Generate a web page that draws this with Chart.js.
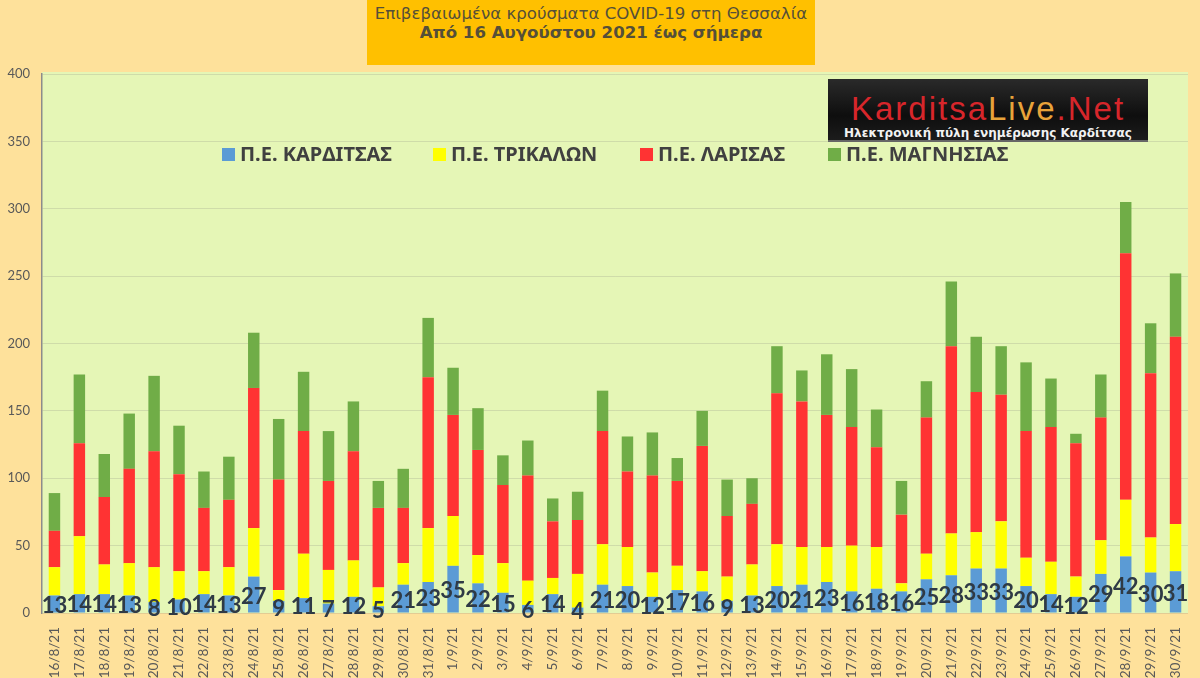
<!DOCTYPE html>
<html>
<head>
<meta charset="utf-8">
<script src="https://cdn.jsdelivr.net/npm/chart.js@4.4.0/dist/chart.umd.min.js"></script>
<style>
  html, body { margin: 0; padding: 0; }
  body { width: 1200px; height: 678px; background: #fee19b; position: relative; overflow: hidden; }
  #chart { position: absolute; left: 0; top: 0; }
  #title {
    position: absolute; left: 367px; top: 0; width: 448px; height: 65px;
    background: #ffc000; text-align: center; color: #554f38;
    font-family: "DejaVu Sans", sans-serif; font-size: 16.6px; line-height: 19px;
    padding-top: 4px; box-sizing: border-box; white-space: nowrap;
  }
  #title b { display: block; }
  #logo {
    position: absolute; left: 828px; top: 79px; width: 320px; height: 63px;
    background: linear-gradient(#2a2a2a, #0e0e0e 60%, #1c1c1c);
    font-family: "Liberation Sans", sans-serif; text-align: center; box-sizing: border-box;
    border-bottom: 2px solid #666;
  }
  #logo .brand { position: absolute; left: 0; right: 0; top: 14px; font-size: 33px; letter-spacing: 2px; color: #d7262b; line-height: 32px; }
  #logo .brand span { color: #e8a33a; }
  #logo .sub { position: absolute; left: 0; right: 0; top: 47px; font-family: "DejaVu Sans", sans-serif; font-weight: bold; font-size: 12px; color: #f2f2f2; line-height: 14px; }
</style>
</head>
<body>
<canvas id="chart" width="1200" height="678"></canvas>
<div id="title">Επιβεβαιωμένα κρούσματα COVID-19 στη Θεσσαλία<b>Από 16 Αυγούστου 2021 έως σήμερα</b></div>
<div id="logo"><div class="brand">Karditsa<span>Live</span>.Net</div><div class="sub">Ηλεκτρονική πύλη ενημέρωσης Καρδίτσας</div></div>
<script>
document.addEventListener("DOMContentLoaded", function () {
  // === Δεδομένα ===
  const days = [
    "16/8/21", "17/8/21", "18/8/21", "19/8/21", "20/8/21", "21/8/21", "22/8/21", "23/8/21",
    "24/8/21", "25/8/21", "26/8/21", "27/8/21", "28/8/21", "29/8/21", "30/8/21", "31/8/21",
    "1/9/21", "2/9/21", "3/9/21", "4/9/21", "5/9/21", "6/9/21", "7/9/21", "8/9/21",
    "9/9/21", "10/9/21", "11/9/21", "12/9/21", "13/9/21", "14/9/21", "15/9/21", "16/9/21",
    "17/9/21", "18/9/21", "19/9/21", "20/9/21", "21/9/21", "22/9/21", "23/9/21", "24/9/21",
    "25/9/21", "26/9/21", "27/9/21", "28/9/21", "29/9/21", "30/9/21",
  ];
  const karditsa = [13, 14, 14, 13, 8, 10, 14, 13, 27, 9, 11, 7, 12, 5, 21,
    23, 35, 22, 15, 6, 14, 4, 21, 20, 12, 17, 16, 9, 13, 20, 21,
    23, 16, 18, 16, 25, 28, 33, 33, 20, 14, 12, 29, 42, 30, 31];
  const trikala = [21, 43, 22, 24, 26, 21, 17, 21, 36, 8, 33, 25, 27, 14, 16,
    40, 37, 21, 22, 18, 12, 25, 30, 29, 18, 18, 15, 18, 23, 31, 28,
    26, 34, 31, 6, 19, 31, 27, 35, 21, 24, 15, 25, 42, 26, 35];
  const larisa = [27, 69, 50, 70, 86, 72, 47, 50, 104, 82, 91, 66, 81, 59, 41,
    112, 75, 78, 58, 78, 42, 40, 84, 56, 72, 63, 93, 45, 45, 112, 108,
    98, 88, 74, 51, 101, 139, 104, 94, 94, 100, 99, 91, 183, 122, 139];
  const magnisia = [28, 51, 32, 41, 56, 36, 27, 32, 41, 45, 44, 37, 37, 20, 29,
    44, 35, 31, 22, 26, 17, 21, 30, 26, 32, 17, 26, 27, 19, 35, 23,
    45, 43, 28, 25, 27, 48, 41, 36, 51, 36, 7, 32, 38, 37, 47];

  const seriesNames = ["Π.Ε. ΚΑΡΔΙΤΣΑΣ", "Π.Ε. ΤΡΙΚΑΛΩΝ", "Π.Ε. ΛΑΡΙΣΑΣ", "Π.Ε. ΜΑΓΝΗΣΙΑΣ"];
  const seriesColors = ["#5b9bd5", "#ffff00", "#ff3333", "#70ad47"];
  const legendX = [222, 433, 640, 828];

  // fond vert de la zone du graphique
  const plotBg = {
    id: "plotBg",
    beforeDraw(chart) {
      const a = chart.chartArea;
      const ctx = chart.ctx;
      ctx.save();
      ctx.fillStyle = "#e5f6b6";
      ctx.fillRect(a.left, a.top - 2, a.right - a.left, a.bottom - a.top + 2);
      ctx.restore();
    },
  };

  // étiquettes Καρδίτσα sur les barres bleues
  const blueLabels = {
    id: "blueLabels",
    afterDatasetsDraw(chart) {
      const ctx = chart.ctx;
      const meta = chart.getDatasetMeta(0);
      ctx.save();
      ctx.font = "bold 22px Lato, 'Noto Sans', sans-serif";
      ctx.fillStyle = "#2f3a45";
      ctx.textAlign = "center";
      ctx.textBaseline = "middle";
      meta.data.forEach((bar, i) => {
        const y = (bar.y + bar.base) / 2 + 2;
        ctx.fillText(String(karditsa[i]), bar.x, y);
      });
      ctx.restore();
    },
  };

  // légende dans la zone du graphique
  const innerLegend = {
    id: "innerLegend",
    afterDraw(chart) {
      const ctx = chart.ctx;
      ctx.save();
      ctx.font = "bold 20px 'Noto Sans', sans-serif";
      ctx.textBaseline = "middle";
      ctx.textAlign = "left";
      seriesNames.forEach((name, i) => {
        ctx.fillStyle = seriesColors[i];
        ctx.fillRect(legendX[i], 148, 13, 13);
        ctx.fillStyle = "#404040";
        ctx.fillText(name, legendX[i] + 18, 155);
      });
      ctx.restore();
    },
  };

  const ctxChart = document.getElementById("chart");

  new Chart(ctxChart, {
    type: "bar",
    data: {
      labels: days,
      datasets: [
        { label: seriesNames[0], data: karditsa, backgroundColor: seriesColors[0] },
        { label: seriesNames[1], data: trikala, backgroundColor: seriesColors[1] },
        { label: seriesNames[2], data: larisa, backgroundColor: seriesColors[2] },
        { label: seriesNames[3], data: magnisia, backgroundColor: seriesColors[3] },
      ],
    },
    options: {
      responsive: false,
      animation: false,
      devicePixelRatio: 1,
      barPercentage: 0.46,
      categoryPercentage: 1,
      layout: { padding: { top: 74, right: 12, left: 0, bottom: 0 } },
      plugins: { legend: { display: false }, tooltip: { enabled: false } },
      scales: {
        x: {
          stacked: true,
          grid: { display: false },
          border: { display: false },
          ticks: {
            autoSkip: false,
            maxRotation: 90,
            minRotation: 90,
            padding: 6,
            color: "#595959",
            font: { family: "Lato, 'Noto Sans', sans-serif", size: 13.5 },
          },
          afterFit(scale) { scale.height = 65; },
        },
        y: {
          stacked: true,
          min: 0,
          max: 400,
          ticks: {
            stepSize: 50,
            padding: 12,
            color: "#595959",
            font: { family: "Lato, 'Noto Sans', sans-serif", size: 13 },
          },
          grid: { color: "rgba(120,120,120,0.2)", drawTicks: false },
          border: { color: "#8c8c8c", width: 1.5 },
          afterFit(scale) { scale.width = 42; },
        },
      },
    },
    plugins: [plotBg, blueLabels, innerLegend],
  });
});
</script>
</body>
</html>
